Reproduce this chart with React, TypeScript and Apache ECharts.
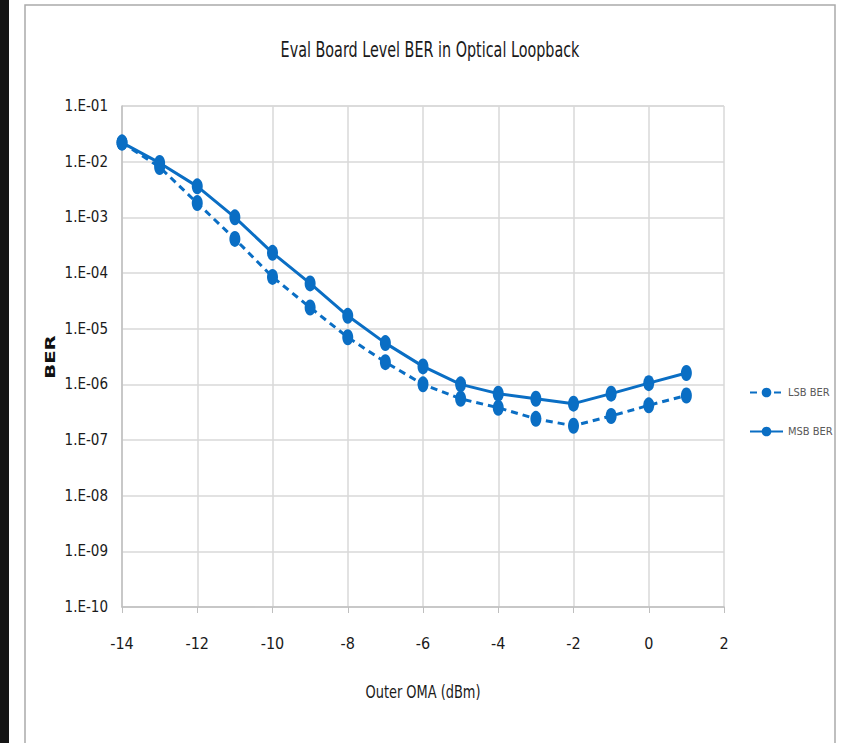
import React, { useEffect, useRef } from "react";
import * as echarts from "echarts";

const title = "Eval Board Level BER in Optical Loopback";
const xAxisTitle = "Outer OMA (dBm)";
const yAxisTitle = "BER";
const seriesNames = ["LSB BER", "MSB BER"];
const omaValues = [-14, -13, -12, -11, -10, -9, -8, -7, -6, -5, -4, -3, -2, -1, 0, 1];
const lsbBer = [2.2e-2, 8.0e-3, 1.8e-3, 4.1e-4, 8.5e-5, 2.4e-5, 7.0e-6, 2.5e-6, 1.0e-6, 5.5e-7, 3.8e-7, 2.4e-7, 1.8e-7, 2.7e-7, 4.2e-7, 6.3e-7];
const msbBer = [2.2e-2, 9.5e-3, 3.6e-3, 1.0e-3, 2.3e-4, 6.5e-5, 1.7e-5, 5.5e-6, 2.1e-6, 1.0e-6, 6.8e-7, 5.5e-7, 4.5e-7, 6.8e-7, 1.05e-6, 1.6e-6];

const FONT = "'Liberation Sans Narrow', 'DejaVu Sans Condensed', 'Open Sans', sans-serif";
const BLUE = "#0a6ec4";

export default function App() {
  const ref = useRef<HTMLDivElement>(null);
  useEffect(() => {
    document.body.style.margin = "0";
    const chart = echarts.init(ref.current!, null, { renderer: "svg" });
    const pair = (ys: number[]) => omaValues.map((x, i) => [x, ys[i]]);
    chart.setOption({
      animation: false,
      backgroundColor: "#ffffff",
      textStyle: { fontFamily: FONT },
      graphic: [
        { type: "rect", shape: { x: 0, y: 0, width: 9, height: 743 }, style: { fill: "#151515" } },
        { type: "rect", shape: { x: 25, y: 5, width: 810, height: 760 }, style: { fill: "none", stroke: "#aaaaaa", lineWidth: 1.5 } },
        { type: "text", x: 430, y: 50, scaleX: 0.76, style: { text: title, align: "center", verticalAlign: "middle", font: `21px ${FONT}`, fill: "#1a1a1a" } },
        { type: "text", x: 423, y: 692, scaleX: 0.8, style: { text: xAxisTitle, align: "center", verticalAlign: "middle", font: `18px ${FONT}`, fill: "#1a1a1a" } },
        { type: "text", x: 50, y: 357, rotation: Math.PI / 2, scaleX: 1.4, style: { text: yAxisTitle, align: "center", verticalAlign: "middle", font: `bold 14px 'DejaVu Sans', sans-serif`, fill: "#111111" } },
      ],
      grid: { left: 122, top: 106, width: 602, height: 501, containLabel: false },
      xAxis: {
        type: "value",
        min: -14,
        max: 2,
        interval: 2,
        axisLine: { show: true, lineStyle: { color: "#bfbfbf", width: 1.5 } },
        axisTick: { show: true, length: 6, lineStyle: { color: "#bfbfbf" } },
        axisLabel: { margin: 28, fontSize: 16, color: "#1a1a1a", fontFamily: FONT },
        splitLine: { show: true, lineStyle: { color: "#d9d9d9", width: 1.5 } },
      },
      yAxis: {
        type: "log",
        logBase: 10,
        min: 1e-10,
        max: 1e-1,
        splitNumber: 9,
        axisLine: { show: true, onZero: false, lineStyle: { color: "#bfbfbf", width: 1.5 } },
        axisTick: { show: false },
        axisLabel: {
          margin: 14,
          fontSize: 15,
          color: "#1a1a1a",
          fontFamily: FONT,
          formatter: (v: number) => {
            const e = Math.round(Math.log10(v));
            return `1.E-${String(Math.abs(e)).padStart(2, "0")}`;
          },
        },
        splitLine: { show: true, lineStyle: { color: "#d9d9d9", width: 1.5 } },
      },
      legend: {
        orient: "vertical",
        left: 744,
        top: 382,
        itemWidth: 33,
        itemHeight: 12,
        itemGap: 28,
        data: seriesNames,
        textStyle: { fontSize: 11, color: "#595959", fontFamily: FONT },
      },
      series: [
        {
          name: seriesNames[0],
          type: "line",
          data: pair(lsbBer),
          symbol: "circle",
          symbolSize: [11, 16],
          itemStyle: { color: BLUE },
          lineStyle: { color: BLUE, width: 3, type: [7, 5] },
          z: 2,
        },
        {
          name: seriesNames[1],
          type: "line",
          data: pair(msbBer),
          symbol: "circle",
          symbolSize: [11, 16],
          itemStyle: { color: BLUE },
          lineStyle: { color: BLUE, width: 3 },
          z: 3,
        },
      ],
    });
    return () => chart.dispose();
  }, []);
  return <div ref={ref} style={{ width: 843, height: 743, position: "absolute", left: 0, top: 0 }} />;
}
